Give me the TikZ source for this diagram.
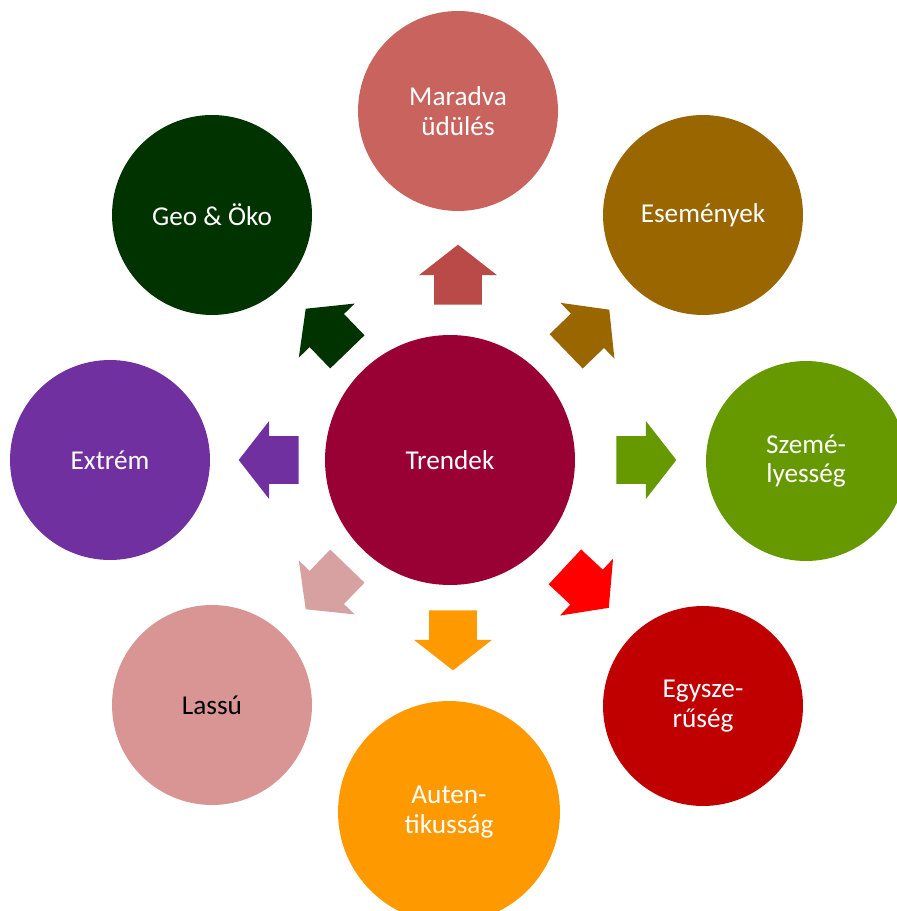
\documentclass[tikz,border=0pt]{standalone}
\usepackage{fontspec}
\setmainfont{Carlito}
\usetikzlibrary{shapes.arrows}
\definecolor{cTrend}{RGB}{153,0,51}
\definecolor{cMarad}{RGB}{200,99,94}
\definecolor{cMaradArr}{RGB}{185,74,72}
\definecolor{cEsem}{RGB}{153,102,0}
\definecolor{cSzem}{RGB}{102,153,0}
\definecolor{cEgy}{RGB}{192,0,0}
\definecolor{cEgyArr}{RGB}{255,0,0}
\definecolor{cAuten}{RGB}{255,153,0}
\definecolor{cLassu}{RGB}{217,149,148}
\definecolor{cLassuArr}{RGB}{214,161,160}
\definecolor{cExtrem}{RGB}{112,48,160}
\definecolor{cGeo}{RGB}{0,51,0}
\tikzset{
  bubble/.style={circle, inner sep=0pt, minimum size=4cm, align=center,
    text=white, font=\fontsize{15.5}{17}\selectfont},
  blockarr/.style={single arrow, inner xsep=0pt, inner ysep=0.47cm,
    minimum height=1.2cm, single arrow head extend=0.3cm,
    single arrow tip angle=104},
}

\begin{document}
\begin{tikzpicture}[x=0.02cm, y=-0.02cm]
\useasboundingbox (0,0) rectangle (896,911);
% middle
\node[bubble, fill=cTrend, minimum size=5cm] (trend) at (450,460) {Trendek};
% ring
\node[bubble, fill=cMarad] (marad) at (458,111) {Maradva\\üdülés};
\node[bubble, fill=cEsem] (esem) at (703,215) {Események};
\node[bubble, fill=cSzem] (szem) at (806,461) {Szemé-\\lyesség};
\node[bubble, fill=cEgy] (egy) at (703,706) {Egysze-\\rűség};
\node[bubble, fill=cAuten, minimum size=4.44cm] (auten) at (449,812) {Auten-\\tikusság};
\node[bubble, fill=cLassu, text=black] (lassu) at (212,705) {Lassú};
\node[bubble, fill=cExtrem] (extrem) at (110,460) {Extrém};
\node[bubble, fill=cGeo] (geo) at (212,215) {Geo \& Öko};
% arrows
\node[blockarr, fill=cMaradArr, rotate=90] (aMarad) at (458,284) {};
\node[blockarr, fill=cEsem, rotate=44] (aEsem) at (581,337) {};
\node[blockarr, fill=cSzem, rotate=0] (aSzem) at (637,460) {};
\node[blockarr, fill=cEgyArr, rotate=-43] (aEgy) at (580,581) {};
\node[blockarr, fill=cAuten, rotate=-90] (aAuten) at (453,631) {};
\node[blockarr, fill=cLassuArr, rotate=-134] (aLassu) at (333,581) {};
\node[blockarr, fill=cExtrem, rotate=180] (aExtrem) at (278,460) {};
\node[blockarr, fill=cGeo, rotate=134] (aGeo) at (333,337) {};
\end{tikzpicture}
\end{document}
